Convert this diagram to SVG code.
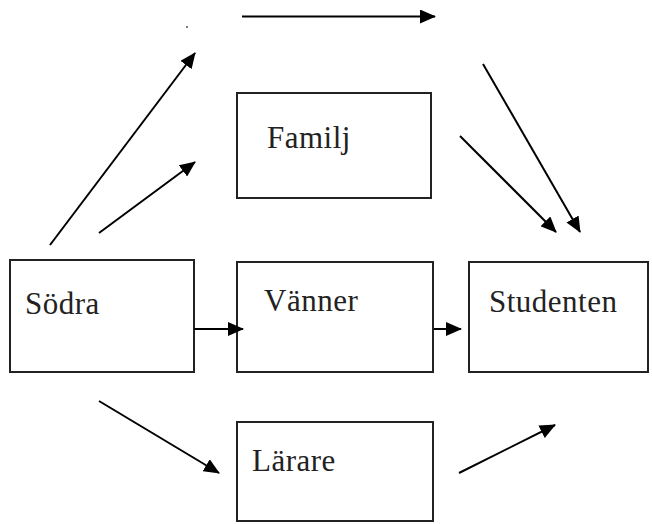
<svg xmlns="http://www.w3.org/2000/svg" width="652" height="524" viewBox="0 0 652 524">
<style>
.box{fill:#fff;stroke:#222;stroke-width:2}
.lbl{font-family:'Liberation Serif','Times New Roman','DejaVu Serif',serif;font-size:31px;fill:#222;letter-spacing:0.5px}
.c line{stroke:#000;stroke-width:2;marker-end:url(#ah)}
</style>
<defs>
<marker id="ah" markerUnits="userSpaceOnUse" markerWidth="17" markerHeight="14" refX="15" refY="7" orient="auto">
<path d="M0,0 L16,7 L0,14 z" fill="#000"/>
</marker>
</defs>
<rect width="652" height="524" fill="#fff"/>
<circle cx="187" cy="27" r="1" fill="#555"/>
<g id="familj"><rect class="box" x="237" y="93" width="194" height="105"/><text class="lbl" x="267" y="148">Familj</text></g>
<g id="sodra"><rect class="box" x="10" y="260" width="184" height="112"/><text class="lbl" x="25" y="314">Södra</text></g>
<g id="vanner"><rect class="box" x="237" y="262" width="196" height="110"/><text class="lbl" x="264" y="311">Vänner</text></g>
<g id="studenten"><rect class="box" x="469" y="262" width="179" height="110"/><text class="lbl" x="489" y="312">Studenten</text></g>
<g id="larare"><rect class="box" x="237" y="422" width="196" height="99"/><text class="lbl" x="252" y="471">Lärare</text></g>
<g class="c" id="connectors">
<line x1="242" y1="16.5" x2="435" y2="16.5"/>
<line x1="50" y1="245" x2="195" y2="53"/>
<line x1="99" y1="233" x2="195" y2="162"/>
<line x1="483" y1="64" x2="580" y2="232"/>
<line x1="460" y1="136" x2="556" y2="232"/>
<line x1="194" y1="329" x2="243" y2="329"/>
<line x1="434" y1="329" x2="461" y2="329"/>
<line x1="99" y1="401" x2="219" y2="473"/>
<line x1="459" y1="473" x2="555" y2="425"/>
</g>
</svg>
